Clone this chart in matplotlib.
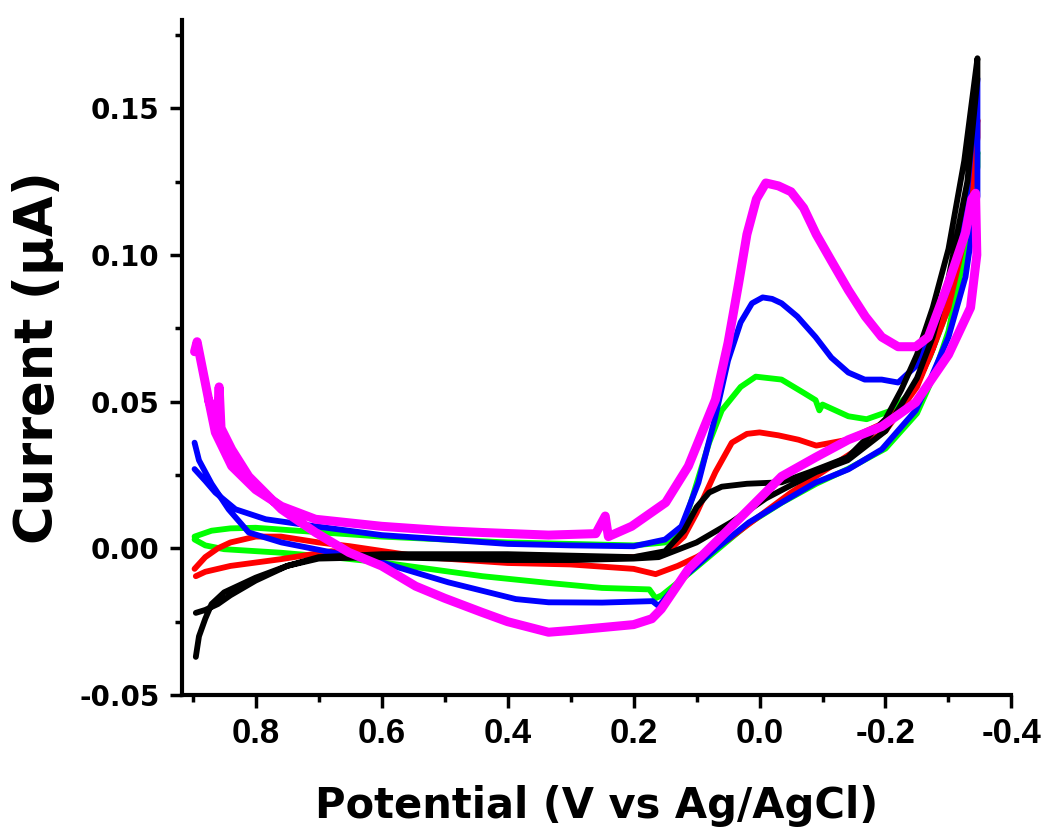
import matplotlib
matplotlib.use("Agg")
import matplotlib.pyplot as plt
from matplotlib.ticker import MultipleLocator, FormatStrFormatter

plt.rcParams['axes.unicode_minus'] = False

# ---------------- data (potential V, current uA) ----------------
black_v = [0.895, 0.88, 0.86, 0.84, 0.80, 0.75, 0.70, 0.60, 0.50, 0.40, 0.30, 0.20, 0.15, 0.12,
           0.10, 0.08, 0.06, 0.02, -0.035, -0.08, -0.14, -0.20, -0.225, -0.25, -0.275, -0.30,
           -0.325, -0.346,
           -0.346, -0.33, -0.30, -0.275, -0.25, -0.20, -0.14, -0.09, -0.01, 0.044, 0.10, 0.16,
           0.20, 0.30, 0.40, 0.50, 0.60, 0.70, 0.75, 0.80, 0.85, 0.87, 0.88, 0.89, 0.895]
black_i = [-0.022, -0.021, -0.019, -0.016, -0.011, -0.006, -0.003, -0.002, -0.002, -0.002, -0.0025,
           -0.003, -0.001, 0.006, 0.014, 0.019, 0.021, 0.022, 0.0225, 0.026, 0.031, 0.044, 0.054,
           0.066, 0.082, 0.102, 0.132, 0.167,
           0.160, 0.125, 0.092, 0.072, 0.058, 0.040, 0.030, 0.026, 0.017, 0.009, 0.002, -0.003,
           -0.0035, -0.004, -0.004, -0.0035, -0.003, -0.0035, -0.006, -0.010, -0.015, -0.019,
           -0.024, -0.030, -0.037]

red_v = [0.897, 0.88, 0.86, 0.84, 0.80, 0.76, 0.70, 0.65, 0.55, 0.45, 0.35, 0.25, 0.20, 0.15,
         0.12, 0.10, 0.07, 0.044, 0.02, 0.0, -0.03, -0.062, -0.09, -0.14, -0.19, -0.22, -0.25,
         -0.275, -0.30, -0.325, -0.346,
         -0.346, -0.33, -0.30, -0.275, -0.25, -0.20, -0.15, -0.10, -0.05, 0.0, 0.05, 0.10, 0.13,
         0.165, 0.20, 0.30, 0.40, 0.50, 0.60, 0.68, 0.76, 0.84, 0.88, 0.895]
red_i = [-0.007, -0.003, 0.000, 0.002, 0.004, 0.004, 0.002, 0.0007, -0.0025, -0.0035, -0.003,
         -0.003, -0.003, -0.002, 0.004, 0.012, 0.026, 0.036, 0.039, 0.0395, 0.0385, 0.037, 0.035,
         0.037, 0.042, 0.047, 0.056, 0.068, 0.085, 0.112, 0.146,
         0.140, 0.110, 0.082, 0.068, 0.055, 0.040, 0.033, 0.026, 0.019, 0.011, 0.003, -0.003,
         -0.006, -0.0088, -0.007, -0.0055, -0.005, -0.0035, -0.002, -0.001, -0.0037, -0.006,
         -0.008, -0.0095]

green_v = [0.897, 0.87, 0.84, 0.80, 0.70, 0.60, 0.50, 0.40, 0.30, 0.20, 0.15, 0.12, 0.10, 0.08,
           0.06, 0.03, 0.006, -0.035, -0.07, -0.089, -0.095, -0.10, -0.141, -0.17, -0.21, -0.24,
           -0.27, -0.30, -0.325, -0.346,
           -0.346, -0.33, -0.30, -0.275, -0.25, -0.20, -0.14, -0.09, -0.035, 0.017, 0.07, 0.12,
           0.155, 0.165, 0.175, 0.25, 0.335, 0.44, 0.60, 0.68, 0.76, 0.85, 0.88, 0.897]
green_i = [0.004, 0.006, 0.0068, 0.007, 0.0055, 0.004, 0.003, 0.002, 0.0015, 0.001, 0.002, 0.008,
           0.022, 0.036, 0.047, 0.055, 0.0585, 0.0575, 0.053, 0.0505, 0.047, 0.049, 0.045, 0.044,
           0.047, 0.053, 0.065, 0.082, 0.105, 0.135,
           0.130, 0.105, 0.074, 0.058, 0.046, 0.034, 0.027, 0.022, 0.0155, 0.0085, -0.001, -0.010,
           -0.016, -0.017, -0.014, -0.0135, -0.0118, -0.0095, -0.0048, -0.003, -0.0015, -0.0003,
           0.001, 0.003]

blue_v = [0.897, 0.88, 0.864, 0.832, 0.784, 0.705, 0.60, 0.50, 0.40, 0.30, 0.20, 0.15, 0.124,
          0.097, 0.07, 0.05, 0.03, 0.012, -0.005, -0.02, -0.035, -0.06, -0.089, -0.114, -0.141,
          -0.167, -0.194, -0.22, -0.248, -0.273, -0.30, -0.327, -0.346,
          -0.346, -0.327, -0.30, -0.273, -0.248, -0.194, -0.141, -0.089, -0.035, 0.017, 0.07,
          0.124, 0.16, 0.17, 0.25, 0.335, 0.387, 0.494, 0.60, 0.679, 0.759, 0.811, 0.843, 0.87,
          0.89, 0.897]
blue_i = [0.027, 0.023, 0.019, 0.0133, 0.0099, 0.0075, 0.0045, 0.003, 0.0015, 0.001, 0.0007,
          0.003, 0.0075, 0.0224, 0.045, 0.064, 0.077, 0.0835, 0.0855, 0.085, 0.0835, 0.079, 0.072,
          0.065, 0.0599, 0.0575, 0.0575, 0.0565, 0.062, 0.0735, 0.089, 0.115, 0.160,
          0.120, 0.0925, 0.072, 0.0585, 0.047, 0.0337, 0.0269, 0.0224, 0.0156, 0.0088, -0.0003,
          -0.0105, -0.0197, -0.018, -0.0185, -0.0184, -0.0173, -0.0116, -0.0048, -0.0014, 0.002,
          0.0054, 0.0133, 0.022, 0.030, 0.036]

magenta_v = [0.897, 0.893, 0.875, 0.864, 0.838, 0.80, 0.759, 0.705, 0.60, 0.50, 0.441, 0.335,
             0.26, 0.245, 0.24, 0.203, 0.149, 0.113, 0.07, 0.05, 0.033, 0.02, 0.005, -0.01,
             -0.03, -0.05, -0.07, -0.09, -0.114, -0.141, -0.168, -0.194, -0.22, -0.248, -0.268,
             -0.30, -0.327, -0.337, -0.343,
             -0.345, -0.335, -0.30, -0.248, -0.194, -0.141, -0.089, -0.035, 0.017, 0.07, 0.113,
             0.156, 0.171, 0.20, 0.25, 0.30, 0.335, 0.40, 0.441, 0.50, 0.546, 0.60, 0.652, 0.705,
             0.759, 0.811, 0.838, 0.855, 0.858, 0.861, 0.875]
magenta_i = [0.067, 0.0704, 0.051, 0.0395, 0.028, 0.020, 0.0143, 0.0099, 0.0075, 0.006, 0.0054,
             0.0045, 0.005, 0.011, 0.004, 0.0075, 0.0156, 0.028, 0.0507, 0.070, 0.0905, 0.107,
             0.119, 0.1245, 0.1235, 0.1215, 0.116, 0.107, 0.098, 0.088, 0.079, 0.072, 0.0687,
             0.0687, 0.072, 0.0905, 0.1075, 0.119, 0.121,
             0.100, 0.082, 0.066, 0.0497, 0.0415, 0.037, 0.031, 0.0245, 0.0133, 0.002, -0.0071,
             -0.0207, -0.024, -0.026, -0.027, -0.028, -0.0286, -0.025, -0.0218, -0.017, -0.0129,
             -0.006, -0.0014, 0.0054, 0.0133, 0.0245, 0.0337, 0.041, 0.055, 0.043, 0.0507]

x_ticks = [0.8, 0.6, 0.4, 0.2, 0.0, -0.2, -0.4]
y_ticks = [-0.05, 0.00, 0.05, 0.10, 0.15]
x_label = "Potential (V vs Ag/AgCl)"
y_label = "Current (\u03bcA)"

# ---------------- figure ----------------
fig = plt.figure(figsize=(10.5, 8.38), dpi=100)
ax = fig.add_axes([0.1733, 0.1706, 0.79, 0.8054])

series = [
    (green_v, green_i, '#00ff00', 4.2),
    (red_v, red_i, '#ff0000', 4.2),
    (blue_v, blue_i, '#0000ff', 4.2),
    (black_v, black_i, '#000000', 4.2),
    (magenta_v, magenta_i, '#ff00ff', 6.5),
]
for v, i, c, lw in series:
    ax.plot(v, i, color=c, lw=lw, solid_joinstyle='round', solid_capstyle='round')

ax.set_xlim(0.917, -0.4)
ax.set_ylim(-0.05, 0.18)

for s in ['top', 'right']:
    ax.spines[s].set_visible(False)
for s in ['left', 'bottom']:
    ax.spines[s].set_linewidth(3)

ax.set_xticks(x_ticks)
ax.set_yticks(y_ticks)
ax.xaxis.set_minor_locator(MultipleLocator(0.1))
ax.yaxis.set_minor_locator(MultipleLocator(0.025))
ax.xaxis.set_major_formatter(FormatStrFormatter('%.1f'))
ax.yaxis.set_major_formatter(FormatStrFormatter('%.2f'))
ax.tick_params(which='major', direction='out', length=9, width=2.5, pad=7)
ax.tick_params(which='minor', direction='out', length=5, width=2.5)

for lab in ax.get_xticklabels():
    lab.set_fontfamily('Liberation Sans')
    lab.set_fontweight('bold')
    lab.set_fontsize(25)
for lab in ax.get_yticklabels():
    lab.set_fontfamily('DejaVu Sans')
    lab.set_fontweight('bold')
    lab.set_fontsize(20)

ax.set_xlabel(x_label, fontsize=30, fontweight='bold', family='DejaVu Sans')
ax.set_ylabel(y_label, fontsize=38, fontweight='bold', family='DejaVu Sans')
ax.xaxis.set_label_coords(0.5, -0.133)
ax.yaxis.set_label_coords(-0.142, 0.5)

fig.savefig('out.png', dpi=100)
